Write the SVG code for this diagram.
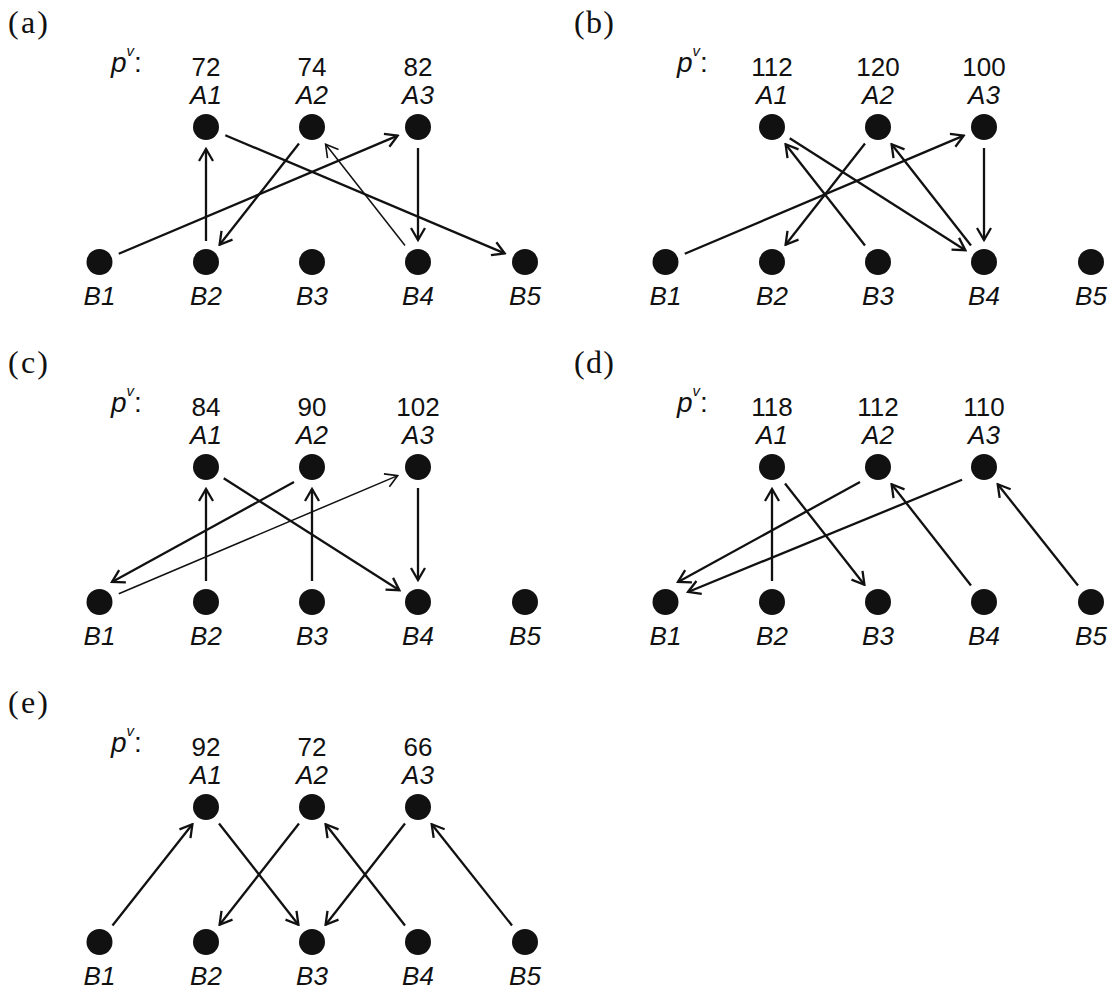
<svg xmlns="http://www.w3.org/2000/svg" width="1118" height="994" viewBox="0 0 1118 994">
  <style>
    .dot { fill: #111; }
    .lbl { font-family: "Liberation Sans", Arial, sans-serif; font-size: 26px; fill: #111; text-anchor: middle; }
    .it { font-style: italic; }
    .pv { font-family: "Liberation Sans", Arial, sans-serif; font-size: 28px; fill: #111; }
    .tag { font-family: "Liberation Serif", "Times New Roman", serif; font-size: 32px; fill: #111; }
    .edge { stroke: #111; stroke-width: 2.3; fill: none; marker-end: url(#arr); }
    .thin { stroke-width: 1.5; marker-end: url(#arrThin); }
  </style>
  <defs>
    <marker id="arr" markerUnits="userSpaceOnUse" viewBox="-14 -9 16 18" markerWidth="16" markerHeight="18" refX="0" refY="0" orient="auto">
      <path d="M-12,-7 L0,0 L-12,7" fill="none" stroke="#111" stroke-width="2.3"/>
    </marker>
    <marker id="arrThin" markerUnits="userSpaceOnUse" viewBox="-14 -9 16 18" markerWidth="16" markerHeight="18" refX="0" refY="0" orient="auto">
      <path d="M-12,-7 L0,0 L-12,7" fill="none" stroke="#111" stroke-width="1.6"/>
    </marker>
  </defs>

  <rect width="1118" height="994" fill="#fff"/>

  <!-- connectors, one subgroup per panel -->
  <g id="connectors">
    <g id="edges-a">
      <line class="edge" x1="225.3" y1="135.2" x2="504.7" y2="253.4"/>
      <line class="edge" x1="206" y1="241" x2="206" y2="149"/>
      <line class="edge" x1="299" y1="143.5" x2="219.6" y2="244.7"/>
      <line class="edge" x1="118.8" y1="253.8" x2="397.7" y2="135.6"/>
      <line class="edge thin" x1="405" y1="245.5" x2="325.6" y2="144.3"/>
      <line class="edge" x1="418" y1="148" x2="418" y2="240"/>
    </g>
    <g id="edges-b" transform="translate(566,0)">
      <line class="edge" x1="118.8" y1="253.8" x2="397.7" y2="135.6"/>
      <line class="edge" x1="299" y1="143.5" x2="219.6" y2="244.7"/>
      <line class="edge" x1="299" y1="245.5" x2="219.6" y2="144.3"/>
      <line class="edge" x1="223.7" y1="138.3" x2="399.4" y2="250.2"/>
      <line class="edge" x1="405" y1="245.5" x2="325.6" y2="144.3"/>
      <line class="edge" x1="418" y1="148" x2="418" y2="240"/>
    </g>
    <g id="edges-c" transform="translate(0,340)">
      <line class="edge" x1="223.7" y1="138.3" x2="399.4" y2="250.2"/>
      <line class="edge" x1="294" y1="142" x2="112" y2="242"/>
      <line class="edge thin" x1="118.8" y1="253.8" x2="397.7" y2="135.6"/>
      <line class="edge" x1="206" y1="241" x2="206" y2="149"/>
      <line class="edge" x1="312" y1="241" x2="312" y2="149"/>
      <line class="edge" x1="418" y1="148" x2="418" y2="240"/>
    </g>
    <g id="edges-d" transform="translate(566,340)">
      <line class="edge" x1="206" y1="241" x2="206" y2="149"/>
      <line class="edge" x1="219" y1="143.5" x2="298.4" y2="244.7"/>
      <line class="edge" x1="294" y1="142" x2="112" y2="242"/>
      <line class="edge" x1="396" y1="139.7" x2="122" y2="252"/>
      <line class="edge" x1="405" y1="245.5" x2="325.6" y2="144.3"/>
      <line class="edge" x1="512" y1="245.5" x2="431.7" y2="144.2"/>
    </g>
    <g id="edges-e" transform="translate(0,680)">
      <line class="edge" x1="112.5" y1="245.5" x2="192.4" y2="144.3"/>
      <line class="edge" x1="219" y1="143.5" x2="298.4" y2="244.7"/>
      <line class="edge" x1="299" y1="143.5" x2="219.6" y2="244.7"/>
      <line class="edge" x1="405" y1="245.5" x2="325.6" y2="144.3"/>
      <line class="edge" x1="405" y1="143.5" x2="325.6" y2="244.7"/>
      <line class="edge" x1="512" y1="245.5" x2="431.7" y2="144.2"/>
    </g>
  </g>

  <!-- panel (a) -->
  <g id="panel-a">
    <text class="tag" x="8" y="33" textLength="40" lengthAdjust="spacing">(a)</text>
    <text class="pv it" x="111" y="72">p<tspan font-size="15" dy="-16">v</tspan><tspan dy="16" font-style="normal">:</tspan></text>
    <g id="a-A1"><text class="lbl" x="206" y="76">72</text><text class="lbl it" x="206" y="104">A1</text><circle class="dot" cx="206" cy="127" r="13"/></g>
    <g id="a-A2"><text class="lbl" x="312" y="76">74</text><text class="lbl it" x="312" y="104">A2</text><circle class="dot" cx="312" cy="127" r="13"/></g>
    <g id="a-A3"><text class="lbl" x="418" y="76">82</text><text class="lbl it" x="418" y="104">A3</text><circle class="dot" cx="418" cy="127" r="13"/></g>
    <g id="a-B1"><circle class="dot" cx="99.5" cy="262" r="13"/><text class="lbl it" x="99.5" y="305">B1</text></g>
    <g id="a-B2"><circle class="dot" cx="206" cy="262" r="13"/><text class="lbl it" x="206" y="305">B2</text></g>
    <g id="a-B3"><circle class="dot" cx="312" cy="262" r="13"/><text class="lbl it" x="312" y="305">B3</text></g>
    <g id="a-B4"><circle class="dot" cx="418" cy="262" r="13"/><text class="lbl it" x="418" y="305">B4</text></g>
    <g id="a-B5"><circle class="dot" cx="525" cy="262" r="13"/><text class="lbl it" x="525" y="305">B5</text></g>
  </g>

  <!-- panel (b) -->
  <g id="panel-b" transform="translate(566,0)">
    <text class="tag" x="8" y="33" textLength="40" lengthAdjust="spacing">(b)</text>
    <text class="pv it" x="111" y="72">p<tspan font-size="15" dy="-16">v</tspan><tspan dy="16" font-style="normal">:</tspan></text>
    <g id="b-A1"><text class="lbl" x="206" y="76">112</text><text class="lbl it" x="206" y="104">A1</text><circle class="dot" cx="206" cy="127" r="13"/></g>
    <g id="b-A2"><text class="lbl" x="312" y="76">120</text><text class="lbl it" x="312" y="104">A2</text><circle class="dot" cx="312" cy="127" r="13"/></g>
    <g id="b-A3"><text class="lbl" x="418" y="76">100</text><text class="lbl it" x="418" y="104">A3</text><circle class="dot" cx="418" cy="127" r="13"/></g>
    <g id="b-B1"><circle class="dot" cx="99.5" cy="262" r="13"/><text class="lbl it" x="99.5" y="305">B1</text></g>
    <g id="b-B2"><circle class="dot" cx="206" cy="262" r="13"/><text class="lbl it" x="206" y="305">B2</text></g>
    <g id="b-B3"><circle class="dot" cx="312" cy="262" r="13"/><text class="lbl it" x="312" y="305">B3</text></g>
    <g id="b-B4"><circle class="dot" cx="418" cy="262" r="13"/><text class="lbl it" x="418" y="305">B4</text></g>
    <g id="b-B5"><circle class="dot" cx="525" cy="262" r="13"/><text class="lbl it" x="525" y="305">B5</text></g>
  </g>

  <!-- panel (c) -->
  <g id="panel-c" transform="translate(0,340)">
    <text class="tag" x="8" y="33" textLength="40" lengthAdjust="spacing">(c)</text>
    <text class="pv it" x="111" y="72">p<tspan font-size="15" dy="-16">v</tspan><tspan dy="16" font-style="normal">:</tspan></text>
    <g id="c-A1"><text class="lbl" x="206" y="76">84</text><text class="lbl it" x="206" y="104">A1</text><circle class="dot" cx="206" cy="127" r="13"/></g>
    <g id="c-A2"><text class="lbl" x="312" y="76">90</text><text class="lbl it" x="312" y="104">A2</text><circle class="dot" cx="312" cy="127" r="13"/></g>
    <g id="c-A3"><text class="lbl" x="418" y="76">102</text><text class="lbl it" x="418" y="104">A3</text><circle class="dot" cx="418" cy="127" r="13"/></g>
    <g id="c-B1"><circle class="dot" cx="99.5" cy="262" r="13"/><text class="lbl it" x="99.5" y="305">B1</text></g>
    <g id="c-B2"><circle class="dot" cx="206" cy="262" r="13"/><text class="lbl it" x="206" y="305">B2</text></g>
    <g id="c-B3"><circle class="dot" cx="312" cy="262" r="13"/><text class="lbl it" x="312" y="305">B3</text></g>
    <g id="c-B4"><circle class="dot" cx="418" cy="262" r="13"/><text class="lbl it" x="418" y="305">B4</text></g>
    <g id="c-B5"><circle class="dot" cx="525" cy="262" r="13"/><text class="lbl it" x="525" y="305">B5</text></g>
  </g>

  <!-- panel (d) -->
  <g id="panel-d" transform="translate(566,340)">
    <text class="tag" x="8" y="33" textLength="40" lengthAdjust="spacing">(d)</text>
    <text class="pv it" x="111" y="72">p<tspan font-size="15" dy="-16">v</tspan><tspan dy="16" font-style="normal">:</tspan></text>
    <g id="d-A1"><text class="lbl" x="206" y="76">118</text><text class="lbl it" x="206" y="104">A1</text><circle class="dot" cx="206" cy="127" r="13"/></g>
    <g id="d-A2"><text class="lbl" x="312" y="76">112</text><text class="lbl it" x="312" y="104">A2</text><circle class="dot" cx="312" cy="127" r="13"/></g>
    <g id="d-A3"><text class="lbl" x="418" y="76">110</text><text class="lbl it" x="418" y="104">A3</text><circle class="dot" cx="418" cy="127" r="13"/></g>
    <g id="d-B1"><circle class="dot" cx="99.5" cy="262" r="13"/><text class="lbl it" x="99.5" y="305">B1</text></g>
    <g id="d-B2"><circle class="dot" cx="206" cy="262" r="13"/><text class="lbl it" x="206" y="305">B2</text></g>
    <g id="d-B3"><circle class="dot" cx="312" cy="262" r="13"/><text class="lbl it" x="312" y="305">B3</text></g>
    <g id="d-B4"><circle class="dot" cx="418" cy="262" r="13"/><text class="lbl it" x="418" y="305">B4</text></g>
    <g id="d-B5"><circle class="dot" cx="525" cy="262" r="13"/><text class="lbl it" x="525" y="305">B5</text></g>
  </g>

  <!-- panel (e) -->
  <g id="panel-e" transform="translate(0,680)">
    <text class="tag" x="8" y="33" textLength="40" lengthAdjust="spacing">(e)</text>
    <text class="pv it" x="111" y="72">p<tspan font-size="15" dy="-16">v</tspan><tspan dy="16" font-style="normal">:</tspan></text>
    <g id="e-A1"><text class="lbl" x="206" y="76">92</text><text class="lbl it" x="206" y="104">A1</text><circle class="dot" cx="206" cy="127" r="13"/></g>
    <g id="e-A2"><text class="lbl" x="312" y="76">72</text><text class="lbl it" x="312" y="104">A2</text><circle class="dot" cx="312" cy="127" r="13"/></g>
    <g id="e-A3"><text class="lbl" x="418" y="76">66</text><text class="lbl it" x="418" y="104">A3</text><circle class="dot" cx="418" cy="127" r="13"/></g>
    <g id="e-B1"><circle class="dot" cx="99.5" cy="262" r="13"/><text class="lbl it" x="99.5" y="305">B1</text></g>
    <g id="e-B2"><circle class="dot" cx="206" cy="262" r="13"/><text class="lbl it" x="206" y="305">B2</text></g>
    <g id="e-B3"><circle class="dot" cx="312" cy="262" r="13"/><text class="lbl it" x="312" y="305">B3</text></g>
    <g id="e-B4"><circle class="dot" cx="418" cy="262" r="13"/><text class="lbl it" x="418" y="305">B4</text></g>
    <g id="e-B5"><circle class="dot" cx="525" cy="262" r="13"/><text class="lbl it" x="525" y="305">B5</text></g>
  </g>
</svg>
